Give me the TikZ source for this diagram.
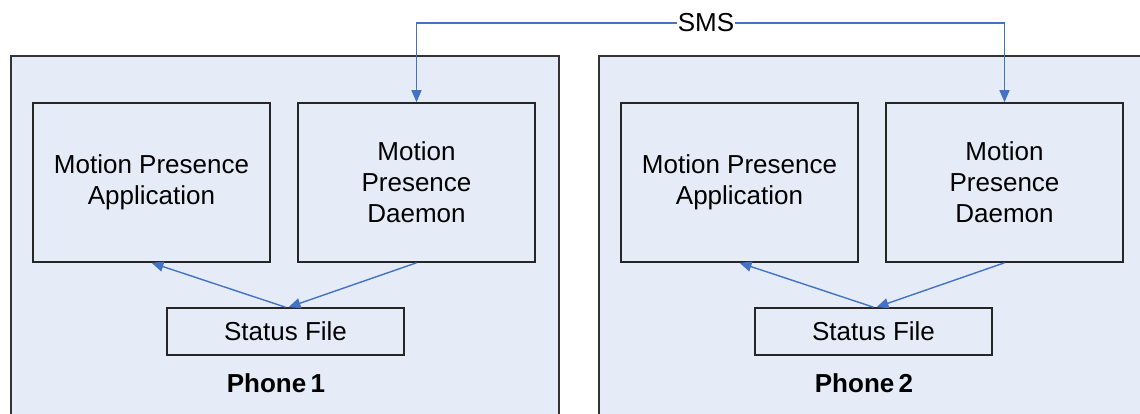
\documentclass[tikz,border=0pt]{standalone}
\usepackage{fontspec}
\setmainfont{Liberation Sans}
\usetikzlibrary{arrows.meta}
\definecolor{phonebg}{RGB}{230,236,247}
\definecolor{smsblue}{RGB}{68,114,196}
\tikzset{>={Triangle[length=12pt,width=10pt]}}
\tikzset{
  unit/.style={draw=black!85,line width=1.6pt,minimum width=237pt,minimum height=159pt,
    inner sep=0pt,align=center,font=\fontsize{26}{31}\selectfont},
  filebox/.style={unit,minimum height=47pt},
  link/.style={smsblue,line width=1.4pt,->},
}
\begin{document}
\begin{tikzpicture}[x=1pt,y=-1pt]
        \clip (0,0) rectangle (1140,414);
        \fill[white] (0,0) rectangle (1140,414);
        \foreach \i/\dx in {1/0,2/588} {
          \draw[fill=phonebg,line width=2pt,draw=black!80] (11+\dx,56) rectangle (559+\dx,440);
          \node[unit] (app\i) at (151.5+\dx,182.5) {Motion Presence\\Application};
          \node[unit] (dmn\i) at (416.5+\dx,182.5) {Motion\\Presence\\Daemon};
          \node[filebox] (stat\i) at (285.5+\dx,331.5) {Status File};
          \node[font=\fontsize{26}{30}\selectfont\bfseries] (phone\i) at (276+\dx,383) {Phone\,\i};
          \draw[link] (stat\i.north) -- (app\i.south);
          \draw[link] (dmn\i.south) -- ([xshift=3pt]stat\i.north);
        }
        \node[fill=white,inner sep=1pt,font=\fontsize{26}{30}\selectfont] (sms) at (706,23) {SMS};
        \draw[link] (sms.west) -| (dmn1.north);
        \draw[link] (sms.east) -| (dmn2.north);
\end{tikzpicture}
\end{document}
